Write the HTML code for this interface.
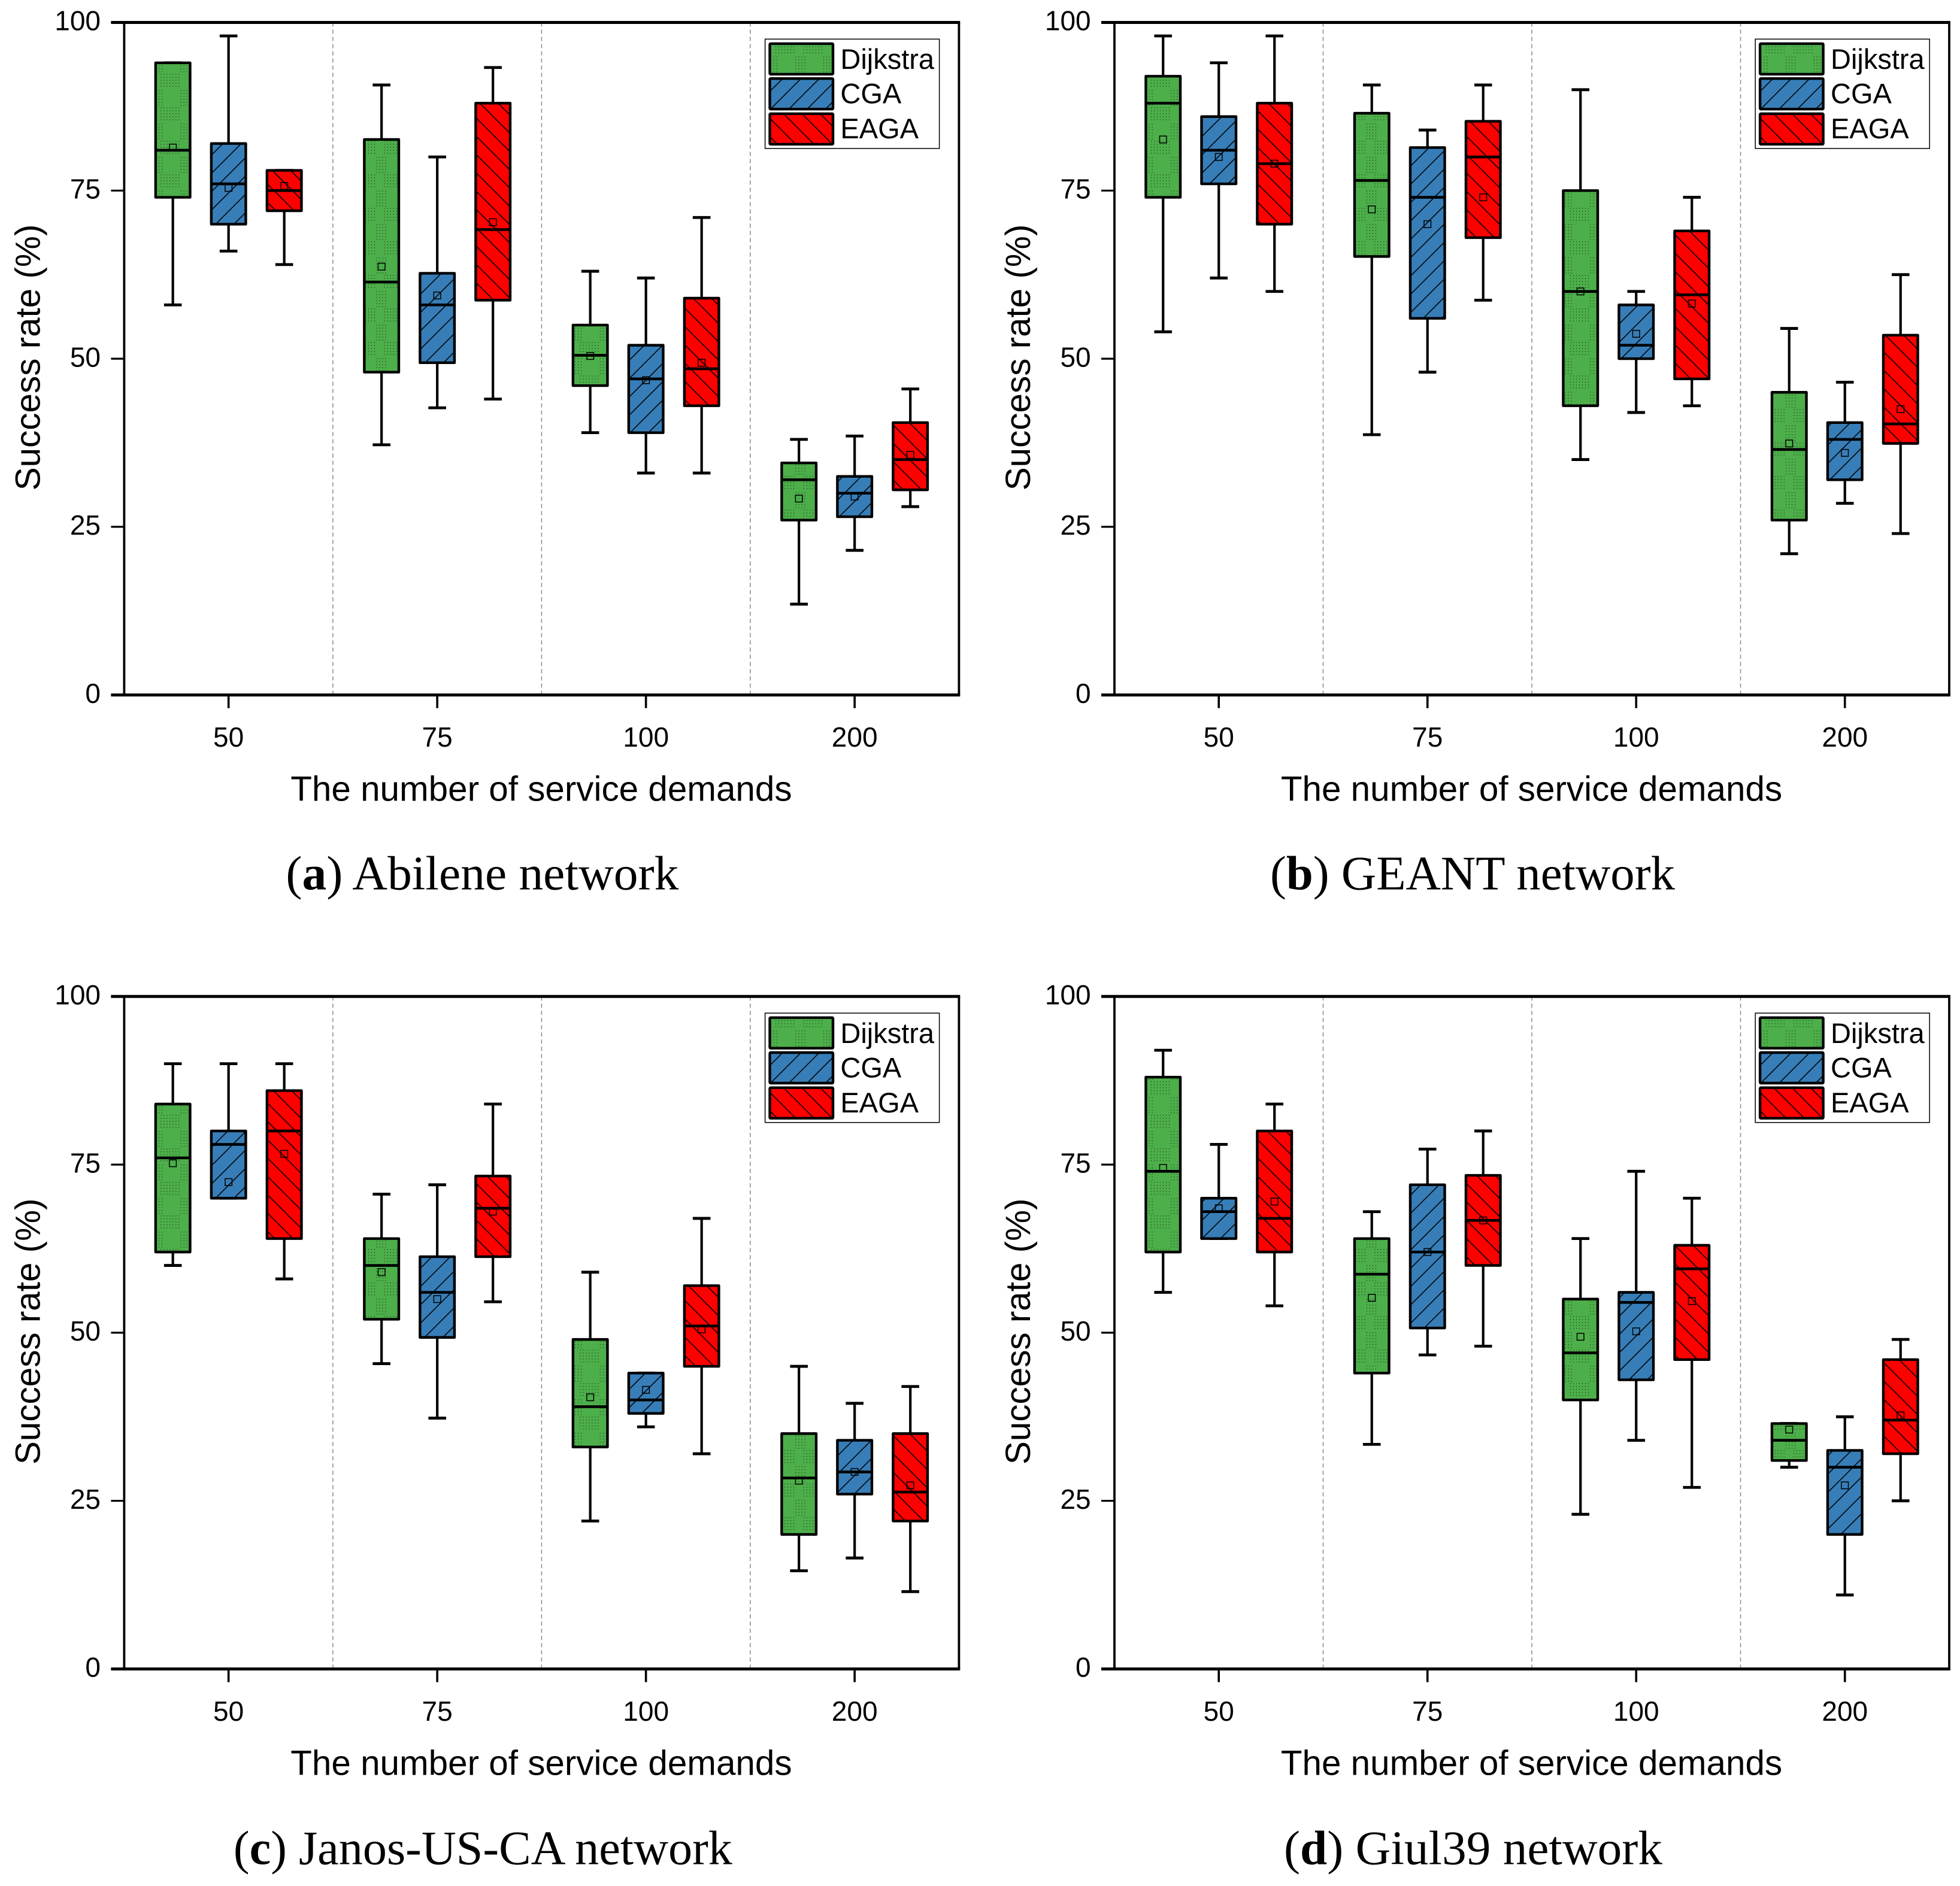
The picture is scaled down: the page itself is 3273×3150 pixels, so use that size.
<!DOCTYPE html>
<html lang="en">
<head>
<meta charset="utf-8">
<title>Success rate by number of service demands</title>
<style>
  html, body { margin: 0; padding: 0; background: #fff; }
  svg { display: block; }
  .sans { font-family: "Liberation Sans", Arial, sans-serif; fill: #000; }
  .serif { font-family: "Liberation Serif", "Times New Roman", serif; fill: #000; }
</style>
</head>
<body>
<svg id="figure" xmlns="http://www.w3.org/2000/svg" width="3273" height="3150" viewBox="0 0 3273 3150">
  <defs>
    <pattern id="fill-dijkstra" patternUnits="userSpaceOnUse" width="46.67" height="56">
      <rect width="46.67" height="56" fill="#4DAF4A"></rect>
      <g id="dots" fill="#000"></g>
    </pattern>
    <pattern id="fill-cga" patternUnits="userSpaceOnUse" width="30.6" height="30.6">
      <rect width="30.6" height="30.6" fill="#377EB8"></rect>
      <path d="M-3 3 L3 -3 M-3 33.6 L33.6 -3 M27.6 33.6 L33.6 27.6" stroke="#000" stroke-width="1.5" fill="none"></path>
    </pattern>
    <pattern id="fill-eaga" patternUnits="userSpaceOnUse" width="30.6" height="30.6">
      <rect width="30.6" height="30.6" fill="#FF0000"></rect>
      <path d="M-3 27.6 L3 33.6 M-3 -3 L33.6 33.6 M27.6 -3 L33.6 3" stroke="#000" stroke-width="1.5" fill="none"></path>
    </pattern>
  </defs>
  <rect x="0" y="0" width="3273" height="3150" fill="#fff"></rect>

  <g id="panel-abilene" transform="translate(207.4 37.5)">
    <g class="marks"></g>
    <text class="sans" font-size="58.4" transform="translate(-141 559.5) rotate(-90)" text-anchor="middle">Success rate (%)</text>
    <text class="sans" font-size="58.4" x="696.5" y="1300" text-anchor="middle">The number of service demands</text>
    <text class="serif" font-size="80" x="598" y="1448" text-anchor="middle" textLength="656" lengthAdjust="spacingAndGlyphs">(<tspan font-weight="bold">a</tspan>) Abilene network</text>
    <g>
      <rect x="1070.2" y="27.8" width="291" height="182.7" fill="#fff" stroke="#000" stroke-width="1.5"></rect>
      <rect x="1078.1" y="35.4" width="105.5" height="51" rx="1.5" fill="url(#fill-dijkstra)" stroke="#000" stroke-width="4.4"></rect>
      <rect x="1078.1" y="93.7" width="105.5" height="51" rx="1.5" fill="url(#fill-cga)" stroke="#000" stroke-width="4.4"></rect>
      <rect x="1078.1" y="152.4" width="105.5" height="51" rx="1.5" fill="url(#fill-eaga)" stroke="#000" stroke-width="4.4"></rect>
      <text class="sans" font-size="47" x="1196" y="77.5">Dijkstra</text>
      <text class="sans" font-size="47" x="1196" y="135.2">CGA</text>
      <text class="sans" font-size="47" x="1196" y="193.5">EAGA</text>
    </g>
  </g>

  <g id="panel-geant" transform="translate(1861 37.5)">
    <g class="marks"></g>
    <text class="sans" font-size="58.4" transform="translate(-141 559.5) rotate(-90)" text-anchor="middle">Success rate (%)</text>
    <text class="sans" font-size="58.4" x="696.5" y="1300" text-anchor="middle">The number of service demands</text>
    <text class="serif" font-size="80" x="598" y="1448" text-anchor="middle" textLength="676" lengthAdjust="spacingAndGlyphs">(<tspan font-weight="bold">b</tspan>) GEANT network</text>
    <g>
      <rect x="1070.2" y="27.8" width="291" height="182.7" fill="#fff" stroke="#000" stroke-width="1.5"></rect>
      <rect x="1078.1" y="35.4" width="105.5" height="51" rx="1.5" fill="url(#fill-dijkstra)" stroke="#000" stroke-width="4.4"></rect>
      <rect x="1078.1" y="93.7" width="105.5" height="51" rx="1.5" fill="url(#fill-cga)" stroke="#000" stroke-width="4.4"></rect>
      <rect x="1078.1" y="152.4" width="105.5" height="51" rx="1.5" fill="url(#fill-eaga)" stroke="#000" stroke-width="4.4"></rect>
      <text class="sans" font-size="47" x="1196" y="77.5">Dijkstra</text>
      <text class="sans" font-size="47" x="1196" y="135.2">CGA</text>
      <text class="sans" font-size="47" x="1196" y="193.5">EAGA</text>
    </g>
  </g>

  <g id="panel-janos" transform="translate(207.4 1664.3)">
    <g class="marks"></g>
    <text class="sans" font-size="58.4" transform="translate(-141 559.5) rotate(-90)" text-anchor="middle">Success rate (%)</text>
    <text class="sans" font-size="58.4" x="696.5" y="1300" text-anchor="middle">The number of service demands</text>
    <text class="serif" font-size="80" x="599" y="1449" text-anchor="middle" textLength="833" lengthAdjust="spacingAndGlyphs">(<tspan font-weight="bold">c</tspan>) Janos-US-CA network</text>
    <g>
      <rect x="1070.2" y="27.8" width="291" height="182.7" fill="#fff" stroke="#000" stroke-width="1.5"></rect>
      <rect x="1078.1" y="35.4" width="105.5" height="51" rx="1.5" fill="url(#fill-dijkstra)" stroke="#000" stroke-width="4.4"></rect>
      <rect x="1078.1" y="93.7" width="105.5" height="51" rx="1.5" fill="url(#fill-cga)" stroke="#000" stroke-width="4.4"></rect>
      <rect x="1078.1" y="152.4" width="105.5" height="51" rx="1.5" fill="url(#fill-eaga)" stroke="#000" stroke-width="4.4"></rect>
      <text class="sans" font-size="47" x="1196" y="77.5">Dijkstra</text>
      <text class="sans" font-size="47" x="1196" y="135.2">CGA</text>
      <text class="sans" font-size="47" x="1196" y="193.5">EAGA</text>
    </g>
  </g>

  <g id="panel-giul39" transform="translate(1861 1664.3)">
    <g class="marks"></g>
    <text class="sans" font-size="58.4" transform="translate(-141 559.5) rotate(-90)" text-anchor="middle">Success rate (%)</text>
    <text class="sans" font-size="58.4" x="696.5" y="1300" text-anchor="middle">The number of service demands</text>
    <text class="serif" font-size="80" x="599" y="1449" text-anchor="middle" textLength="632" lengthAdjust="spacingAndGlyphs">(<tspan font-weight="bold">d</tspan>) Giul39 network</text>
    <g>
      <rect x="1070.2" y="27.8" width="291" height="182.7" fill="#fff" stroke="#000" stroke-width="1.5"></rect>
      <rect x="1078.1" y="35.4" width="105.5" height="51" rx="1.5" fill="url(#fill-dijkstra)" stroke="#000" stroke-width="4.4"></rect>
      <rect x="1078.1" y="93.7" width="105.5" height="51" rx="1.5" fill="url(#fill-cga)" stroke="#000" stroke-width="4.4"></rect>
      <rect x="1078.1" y="152.4" width="105.5" height="51" rx="1.5" fill="url(#fill-eaga)" stroke="#000" stroke-width="4.4"></rect>
      <text class="sans" font-size="47" x="1196" y="77.5">Dijkstra</text>
      <text class="sans" font-size="47" x="1196" y="135.2">CGA</text>
      <text class="sans" font-size="47" x="1196" y="193.5">EAGA</text>
    </g>
  </g>
</svg>

<script>
// Chart data. Each row is one category: [whiskerHigh, q3, median, q1, whiskerLow, mean]
const categories = ['50', '75', '100', '200'];
const yTickLabels = [0, 25, 50, 75, 100];
const seriesNames = ['dijkstra', 'cga', 'eaga'];

const abileneDijkstra = [[94, 94, 81, 74, 58, 81.4], [90.7, 82.6, 61.4, 48, 37.2, 63.7], [63, 55, 50.5, 46, 39, 50.4], [38, 34.5, 32, 26, 13.5, 29.2]];
const abileneCga = [[98, 82, 76, 70, 66, 75.4], [80, 62.7, 58, 49.4, 42.7, 59.4], [62, 52, 47, 39, 33, 46.8], [38.5, 32.5, 30, 26.5, 21.5, 29.5]];
const abileneEaga = [[78, 78, 75, 72, 64, 75.7], [93.3, 88, 69.2, 58.7, 44, 70.3], [71, 59, 48.5, 43, 33, 49.4], [45.5, 40.5, 35, 30.5, 28, 35.7]];

const geantDijkstra = [[98, 92, 88, 74, 54, 82.6], [90.7, 86.5, 76.5, 65.2, 38.7, 72.2], [90, 75, 60, 43, 35, 60], [54.5, 45, 36.5, 26, 21, 37.4]];
const geantCga = [[94, 86, 81, 76, 62, 80], [84, 81.4, 74, 56, 48, 70], [60, 58, 52, 50, 42, 53.7], [46.5, 40.5, 38, 32, 28.5, 36]];
const geantEaga = [[98, 88, 79, 70, 60, 79], [90.7, 85.3, 80, 68, 58.7, 74], [74, 69, 59.5, 47, 43, 58.2], [62.5, 53.5, 40.3, 37.4, 24, 42.5]];

const janosDijkstra = [[90, 84, 76, 62, 60, 75.2], [70.6, 64, 60, 52, 45.4, 59], [59, 49, 39, 33, 22, 40.4], [45, 35, 28.4, 20, 14.6, 28]];
const janosCga = [[90, 80, 78, 70, 70, 72.4], [72, 61.3, 56, 49.3, 37.3, 55], [44, 44, 40, 38, 36, 41.5], [39.5, 34, 29.3, 26, 16.5, 29.3]];
const janosEaga = [[90, 86, 80, 64, 58, 76.6], [84, 73.3, 68.5, 61.3, 54.6, 68], [67, 57, 51, 45, 32, 50.5], [42, 35, 26.3, 22, 11.5, 27.3]];

const giul39Dijkstra = [[92, 88, 74, 62, 56, 74.5], [68, 64, 58.7, 44, 33.4, 55.2], [64, 55, 47, 40, 23, 49.4], [36.5, 36.5, 34, 31, 30, 35.6]];
const giul39Cga = [[78, 70, 68, 64, 64, 68.5], [77.3, 72, 62, 50.7, 46.7, 62], [74, 56, 54.5, 43, 34, 50.2], [37.5, 32.5, 30, 20, 11, 27.3]];
const giul39Eaga = [[84, 80, 67, 62, 54, 69.5], [80, 73.4, 66.7, 60, 48, 66.7], [70, 63, 59.5, 46, 27, 54.7], [49, 46, 37, 32, 25, 37.7]];

const panelIds = ['abilene', 'geant', 'janos', 'giul39'];
const panelSeries = [
  [abileneDijkstra, abileneCga, abileneEaga],
  [geantDijkstra, geantCga, geantEaga],
  [janosDijkstra, janosCga, janosEaga],
  [giul39Dijkstra, giul39Cga, giul39Eaga]
];

// Geometry
const NS = 'http://www.w3.org/2000/svg';
const plotW = 1394;
const plotH = 1123.2;
const band = plotW / categories.length;
const seriesStep = 93;
const boxW = 57.6;
const capW = 29.6;
const meanSize = 11.5;

function yScale(v) { return plotH * (1 - v / 100); }
function xScale(catIndex, seriesIndex) {
  return band * (catIndex + 0.5) + (seriesIndex - 1) * seriesStep;
}
function make(tag, attrs, parent) {
  const el = document.createElementNS(NS, tag);
  for (const k in attrs) el.setAttribute(k, attrs[k]);
  parent.appendChild(el);
  return el;
}

// Stippled fill tile for the Dijkstra series
const dotsGroup = document.getElementById('dots');
for (let c = 0; c < 4; c++) {
  for (let r = 0; r < 6; r++) {
    make('rect', { x: 1 + c * 5, y: 1 + r * 5, width: 1, height: 1 }, dotsGroup);
  }
}
for (let c = 0; c < 7; c++) {
  for (let r = 0; r < 5; r++) {
    make('rect', { x: 14.3 + c * 5, y: 30 + r * 5, width: 1, height: 1 }, dotsGroup);
  }
}

function drawPanel(panelIndex) {
  const id = panelIds[panelIndex];
  const root = document.querySelector('#panel-' + id + ' .marks');

  // Category separators
  for (let i = 1; i < categories.length; i++) {
    const sep = make('line', { x1: band * i, x2: band * i, y1: 0, y2: plotH, stroke: '#8a8a8a', 'stroke-width': 1.5, 'stroke-dasharray': '7 5' }, root);
    
    
  }

  // Boxes
  panelSeries[panelIndex].forEach(function (rows, s) {
    rows.forEach(function (row, c) {
      const cx = xScale(c, s);
      const high = yScale(row[0]), q3 = yScale(row[1]), med = yScale(row[2]);
      const q1 = yScale(row[3]), low = yScale(row[4]), mean = yScale(row[5]);
      const label = seriesNames[s] + '-' + categories[c];

      const g = make('g', {}, root);
      
      

      const upper = make('line', { x1: cx, x2: cx, y1: high, y2: q3, stroke: '#000', 'stroke-width': 4.2 }, g);
      
      

      const lower = make('line', { x1: cx, x2: cx, y1: q1, y2: low, stroke: '#000', 'stroke-width': 4.2 }, g);
      
      

      const capHigh = make('line', { x1: cx - capW / 2, x2: cx + capW / 2, y1: high, y2: high, stroke: '#000', 'stroke-width': 4.8 }, g);
      
      

      const capLow = make('line', { x1: cx - capW / 2, x2: cx + capW / 2, y1: low, y2: low, stroke: '#000', 'stroke-width': 4.8 }, g);
      
      

      const box = make('rect', { x: cx - boxW / 2, y: q3, width: boxW, height: q1 - q3, fill: 'url(#fill-' + seriesNames[s] + ')', stroke: '#000', 'stroke-width': 4.4, 'stroke-linejoin': 'round' }, g);
      
      

      const median = make('line', { x1: cx - boxW / 2, x2: cx + boxW / 2, y1: med, y2: med, stroke: '#000', 'stroke-width': 4.6 }, g);
      
      

      const meanMark = make('rect', { x: cx - meanSize / 2, y: mean - meanSize / 2, width: meanSize, height: meanSize, fill: 'none', stroke: '#000', 'stroke-width': 1.5 }, g);
      
      
    });
  });

  // Y axis ticks and labels
  yTickLabels.forEach(function (t) {
    const yy = yScale(t);
    const tick = make('line', { x1: -22, x2: 0, y1: yy, y2: yy, stroke: '#000', 'stroke-width': 3.2 }, root);
    
    

    const lab = make('text', { x: -39.4, y: yy + 13.2, 'text-anchor': 'end', 'font-size': 46, class: 'sans' }, root);
    lab.textContent = String(t);
    
    
  });

  // X axis ticks and labels
  categories.forEach(function (name, c) {
    const xx = xScale(c, 1);
    const tick = make('line', { x1: xx, x2: xx, y1: plotH, y2: plotH + 22, stroke: '#000', 'stroke-width': 3.6 }, root);
    
    

    const lab = make('text', { x: xx, y: 1209.5, 'text-anchor': 'middle', 'font-size': 46, class: 'sans' }, root);
    lab.textContent = name;
    
    
  });

  // Spines
  const left = make('line', { x1: 0, x2: 0, y1: 0, y2: plotH, stroke: '#000', 'stroke-width': 3.8 }, root);
  
  

  const right = make('line', { x1: plotW, x2: plotW, y1: 0, y2: plotH, stroke: '#000', 'stroke-width': 3.8 }, root);
  
  

  const top = make('line', { x1: -22, x2: plotW + 1.9, y1: 0, y2: 0, stroke: '#000', 'stroke-width': 5 }, root);
  
  

  const bottom = make('line', { x1: -22, x2: plotW + 1.9, y1: plotH, y2: plotH, stroke: '#000', 'stroke-width': 5 }, root);
  
  
}

panelIds.forEach(function (_, i) { drawPanel(i); });
</script>
</body>
</html>
